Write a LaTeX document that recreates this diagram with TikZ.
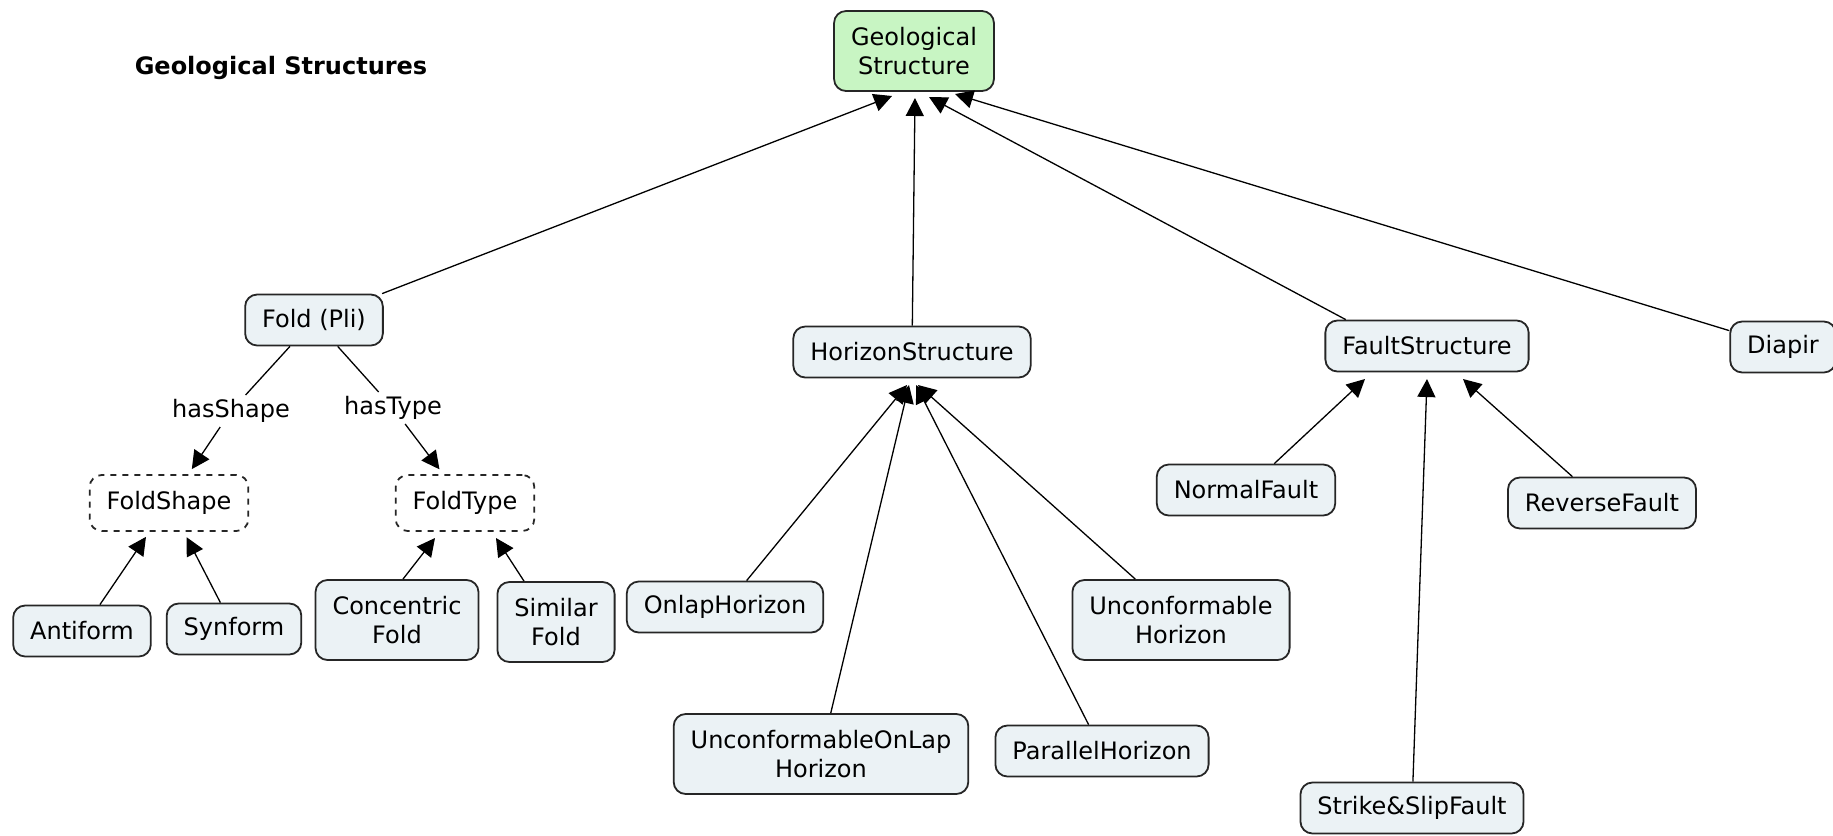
\documentclass[tikz,border=0pt]{standalone}
\usepackage{fontspec}
\setmainfont{DejaVu Sans}
\usetikzlibrary{arrows.meta}

\definecolor{conceptfill}{HTML}{EBF2F5}
\definecolor{rootfill}{HTML}{C8F5C3}

\begin{document}
\begin{tikzpicture}[x=0.5pt,y=-0.5pt,
    concept/.style={draw=black!85,line width=0.9pt,rounded corners=6pt,fill=conceptfill,
        font=\fontsize{12}{14.4}\selectfont,align=center,
        inner xsep=8.5pt,inner ysep=6.5pt,minimum height=25.5pt},
    twoline/.style={minimum height=40pt},
    hidden/.style={concept,dashed,fill=white,minimum height=28pt},
    root/.style={concept,fill=rootfill},
    link/.style={font=\fontsize{12}{14.4}\selectfont,inner sep=2pt},
    arr/.style={-{Triangle[length=9pt,width=9pt]},line width=0.65pt},
    plain/.style={line width=0.65pt}]
    \useasboundingbox (0,0) rectangle (1833,836);

    % title and root concept
    \node[font=\bfseries\fontsize{12}{14.4}\selectfont] (title) at (281,68) {Geological Structures};
    \node[root,twoline] (geo) at (914,51) {Geological\\Structure};

    % first level
    \node[concept] (fold) at (314,320) {Fold (Pli)};
    \node[concept] (horizon) at (912,352) {HorizonStructure};
    \node[concept] (fault) at (1427,346) {FaultStructure};
    \node[concept] (diapir) at (1783,347) {Diapir};

    % fold branch, with the two linking words
    \node[link] (hasshape) at (231,411) {hasShape};
    \node[link] (hastype) at (393,408) {hasType};
    \node[hidden] (foldshape) at (169,503) {FoldShape};
    \node[hidden] (foldtype) at (465,503) {FoldType};
    \node[concept] (antiform) at (82,631) {Antiform};
    \node[concept] (synform) at (234,629) {Synform};
    \node[concept,twoline] (concentric) at (397,620) {Concentric\\Fold};
    \node[concept,twoline] (similar) at (556,622) {Similar\\Fold};

    % horizon branch
    \node[concept] (onlap) at (725,607) {OnlapHorizon};
    \node[concept,twoline] (unconfonlap) at (821,754) {UnconformableOnLap\\Horizon};
    \node[concept] (parallel) at (1102,751) {ParallelHorizon};
    \node[concept,twoline] (unconf) at (1181,620) {Unconformable\\Horizon};

    % fault branch
    \node[concept] (normal) at (1246,490) {NormalFault};
    \node[concept] (reverse) at (1602,503) {ReverseFault};
    \node[concept] (strike) at (1412,808) {Strike\&SlipFault};

    % where the arrow tips meet the boxes
    \coordinate (geo-a) at (892,96);
    \coordinate (geo-b) at (915,98);
    \coordinate (geo-c) at (929,97);
    \coordinate (geo-d) at (955,94);
    \coordinate (hs-a) at (907,385);
    \coordinate (hs-b) at (909,385);
    \coordinate (hs-c) at (916,385);
    \coordinate (hs-d) at (918,385);
    \coordinate (fs-a) at (1365,379);
    \coordinate (fs-b) at (1427,379);
    \coordinate (fs-c) at (1463,379);
    \coordinate (ft-a) at (435,538);
    \coordinate (ft-b) at (496,538);

    % up to the root
    \draw[arr] (fold) -- (geo-a);
    \draw[arr] (horizon) -- (geo-b);
    \draw[arr] (fault.162) -- (geo-c);
    \draw[arr] (diapir) -- (geo-d);

    % fold
    \draw[plain] (fold) -- (hasshape);
    \draw[arr,shorten >=3pt] (hasshape) -- (foldshape);
    \draw[plain] (fold) -- (hastype);
    \draw[arr,shorten >=3pt] (hastype) -- (foldtype);
    \draw[arr,shorten >=3pt] (antiform) -- (foldshape);
    \draw[arr,shorten >=3pt] (synform) -- (foldshape);
    \draw[arr] ([xshift=3pt]concentric.north) -- (ft-a);
    \draw[arr] ([xshift=-16pt]similar.north) -- (ft-b);

    % horizon
    \draw[arr] (onlap) -- (hs-a);
    \draw[arr] (unconfonlap) -- (hs-b);
    \draw[arr] (parallel) -- (hs-c);
    \draw[arr] (unconf) -- (hs-d);

    % fault
    \draw[arr] (normal) -- (fs-a);
    \draw[arr] (strike) -- (fs-b);
    \draw[arr] (reverse) -- (fs-c);
\end{tikzpicture}
\end{document}
